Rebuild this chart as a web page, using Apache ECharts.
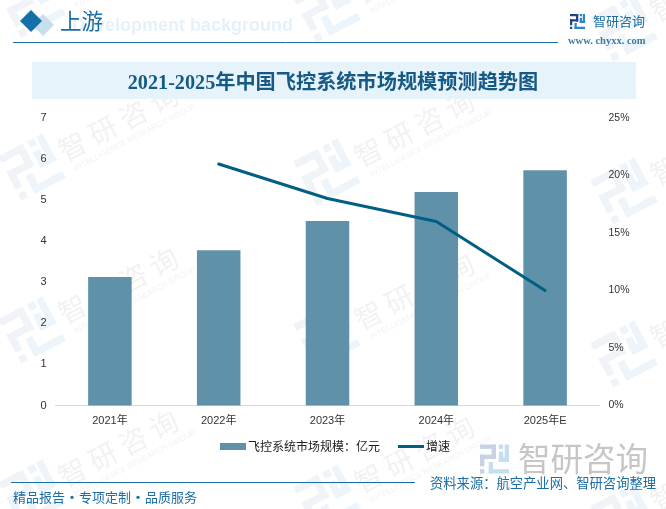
<!DOCTYPE html>
<html lang="zh">
<head>
<meta charset="utf-8">
<title>2021-2025年中国飞控系统市场规模预测趋势图</title>
<script src="https://cdn.jsdelivr.net/npm/echarts@6/dist/echarts.min.js"></script>
<style>
	html, body { margin: 0; padding: 0; background: #fff; }
	#chart { width: 666px; height: 509px; }
</style>
</head>
<body>
<div id="chart"></div>
<script type="text/javascript">
var years = ['2021年', '2022年', '2023年', '2024年', '2025年E'];
var marketSize = [3.13, 3.78, 4.49, 5.2, 5.73];
var growth = [null, 21, 18, 16, 10];
var barName = '飞控系统市场规模：亿元';
var lineName = '增速';
var titleText = '2021-2025年中国飞控系统市场规模预测趋势图';

var blue = '#1a6ea5';
var cjk = '"Noto Sans CJK SC", sans-serif';
var tickFont = '"Liberation Sans", "Noto Sans CJK SC", sans-serif';
var serifFont = '"Liberation Serif", "Noto Sans CJK SC", serif';

// logo drawn from little rects, centred on 0,0, s = size of one side
function logo(s, c1, c2) {
	var parts = [
		[0, 0, 11, 3, c1], [8, 0, 3, 10, c1], [0, 7, 11, 3, c1], [0, 7, 3, 8, c1], [0, 17, 3, 3, c1],
		[13, 0, 3, 3, c2], [17, 0, 3, 12, c2], [6, 12, 3, 8, c2], [13, 9, 7, 3, c2], [6, 17, 14, 3, c2], [13, 5, 3, 7, c2]
	];
	return parts.map(function (p) {
		return {
			type: 'rect',
			shape: { x: (p[0] - 10) * s / 20, y: (p[1] - 10) * s / 20, width: p[2] * s / 20, height: p[3] * s / 20 },
			style: { fill: p[4] }
		};
	});
}

function label(text, x, y, font, fill, align) {
	return {
		type: 'text',
		x: x,
		y: y,
		style: { text: text, font: font, fill: fill, textAlign: align || 'left', textVerticalAlign: 'middle' }
	};
}

// background watermark tiles: logo centre and text centre
var marks = [];
function addMark(lx, ly, tx, ty) {
	marks.push({ type: 'group', x: lx, y: ly, rotation: 0.48, children: logo(50, '#f0f3f8', '#edf5fa') });
	marks.push({
		type: 'group', x: tx, y: ty, rotation: 0.48,
		children: [
			label('智 研 咨 询', 0, -4, '28px ' + cjk, '#f2f2f2', 'center'),
			label('INTELLIGENCE RESEARCH GROUP', 8, 17, '8px ' + tickFont, '#f2f2f2', 'center')
		]
	});
}
for (var i = 0; i < 4; i++) {
	addMark(32, 4 + 163 * i, 120, -37 + 163 * i);
	addMark(327, 9 + 163 * i, 416, -31 + 163 * i);
	addMark(624, 28 + 163 * i, 712, -13 + 163 * i);
}

var header = [
	label('Development background', 72, 26, 'bold 18px ' + tickFont, '#e6f1f9'),
	{ type: 'polygon', shape: { points: [[43, 14], [54, 25], [43, 36], [32, 25]] }, style: { fill: '#c8deed' } },
	{ type: 'polygon', shape: { points: [[31, 10], [42, 21], [31, 32], [20, 21]] }, style: { fill: '#1570a9' } },
	label('上游', 60, 21, '21.5px ' + cjk, blue),
	{ type: 'line', shape: { x1: 13, y1: 42.5, x2: 558, y2: 42.5 }, style: { stroke: blue, lineWidth: 1 } },
	{ type: 'group', x: 577.5, y: 21.5, children: logo(15, '#27408b', '#2c86c8') },
	label('智研咨询', 593, 21, '13px ' + cjk, blue),
	label('www. chyxx. com', 568, 41, 'bold 10.5px ' + serifFont, '#3d7aa5'),
	{ type: 'rect', shape: { x: 32, y: 62, width: 604, height: 37 }, style: { fill: '#e6f3fb' } },
	label(titleText, 333, 84, 'bold 20.2px ' + serifFont, '#155a85', 'center')
];

var footer = [
	{ type: 'group', x: 494.5, y: 459, children: logo(29, '#c9d2e4', '#c5dff0') },
	label('智研咨询', 518, 459, '32.5px ' + cjk, '#c6c6c6'),
	{ type: 'line', shape: { x1: 11, y1: 482.5, x2: 415, y2: 482.5 }, style: { stroke: blue, lineWidth: 1 } },
	label('精品报告', 13, 497, '13px ' + cjk, blue),
	label('·', 72, 497, 'bold 13px ' + cjk, blue, 'center'),
	label('专项定制', 79, 497, '13px ' + cjk, blue),
	label('·', 138, 497, 'bold 13px ' + cjk, blue, 'center'),
	label('品质服务', 145, 497, '13px ' + cjk, blue),
	label('资料来源：航空产业网、智研咨询整理', 430, 483, '13.3px ' + cjk, blue)
];

var myChart = echarts.init(document.getElementById('chart'));
var option = {
	animation: false,
	backgroundColor: '#fff',
	textStyle: { fontFamily: tickFont },
	graphic: { elements: marks.concat(header, footer) },
	legend: {
		left: 215,
		top: 435.5,
		itemWidth: 26,
		itemHeight: 7,
		itemGap: 18,
		textStyle: { color: '#222', fontSize: 12, fontFamily: cjk, padding: [0, 0, 0, -3] },
		data: [
			{ name: barName, icon: 'rect' },
			// thin bar, the two tiny corner strokes keep it from being stretched to full height
			{ name: lineName, icon: 'path://M0 0L0.01 0L0 0Z M0 2H26V5H0Z M0 7L0.01 7L0 7Z' }
		]
	},
	grid: { left: 55.5, right: 66.5, top: 118, bottom: 103.5 },
	xAxis: {
		type: 'category',
		data: years,
		axisLine: { lineStyle: { color: '#d9d9d9' } },
		axisTick: { length: 5, lineStyle: { color: '#d9d9d9' } },
		axisLabel: { color: '#333', fontSize: 11, margin: 10 }
	},
	yAxis: [
		{
			type: 'value',
			min: 0,
			max: 7,
			interval: 1,
			splitLine: { show: false },
			axisLabel: { color: '#333', fontSize: 11, margin: 9, padding: [4, 0, 0, 0] }
		},
		{
			type: 'value',
			min: 0,
			max: 25,
			interval: 5,
			splitLine: { show: false },
			axisLabel: { color: '#333', fontSize: 10.5, margin: 9, padding: [5, 0, 0, 0], formatter: '{value}%' }
		}
	],
	series: [
		{
			name: barName,
			type: 'bar',
			data: marketSize,
			barWidth: '40%',
			itemStyle: { color: '#5f92a9' }
		},
		{
			name: lineName,
			type: 'line',
			yAxisIndex: 1,
			data: growth,
			symbol: 'none',
			lineStyle: { color: '#005f82', width: 3, cap: 'round' },
			itemStyle: { color: '#005f82' }
		}
	]
};
myChart.setOption(option);
</script>
</body>
</html>
